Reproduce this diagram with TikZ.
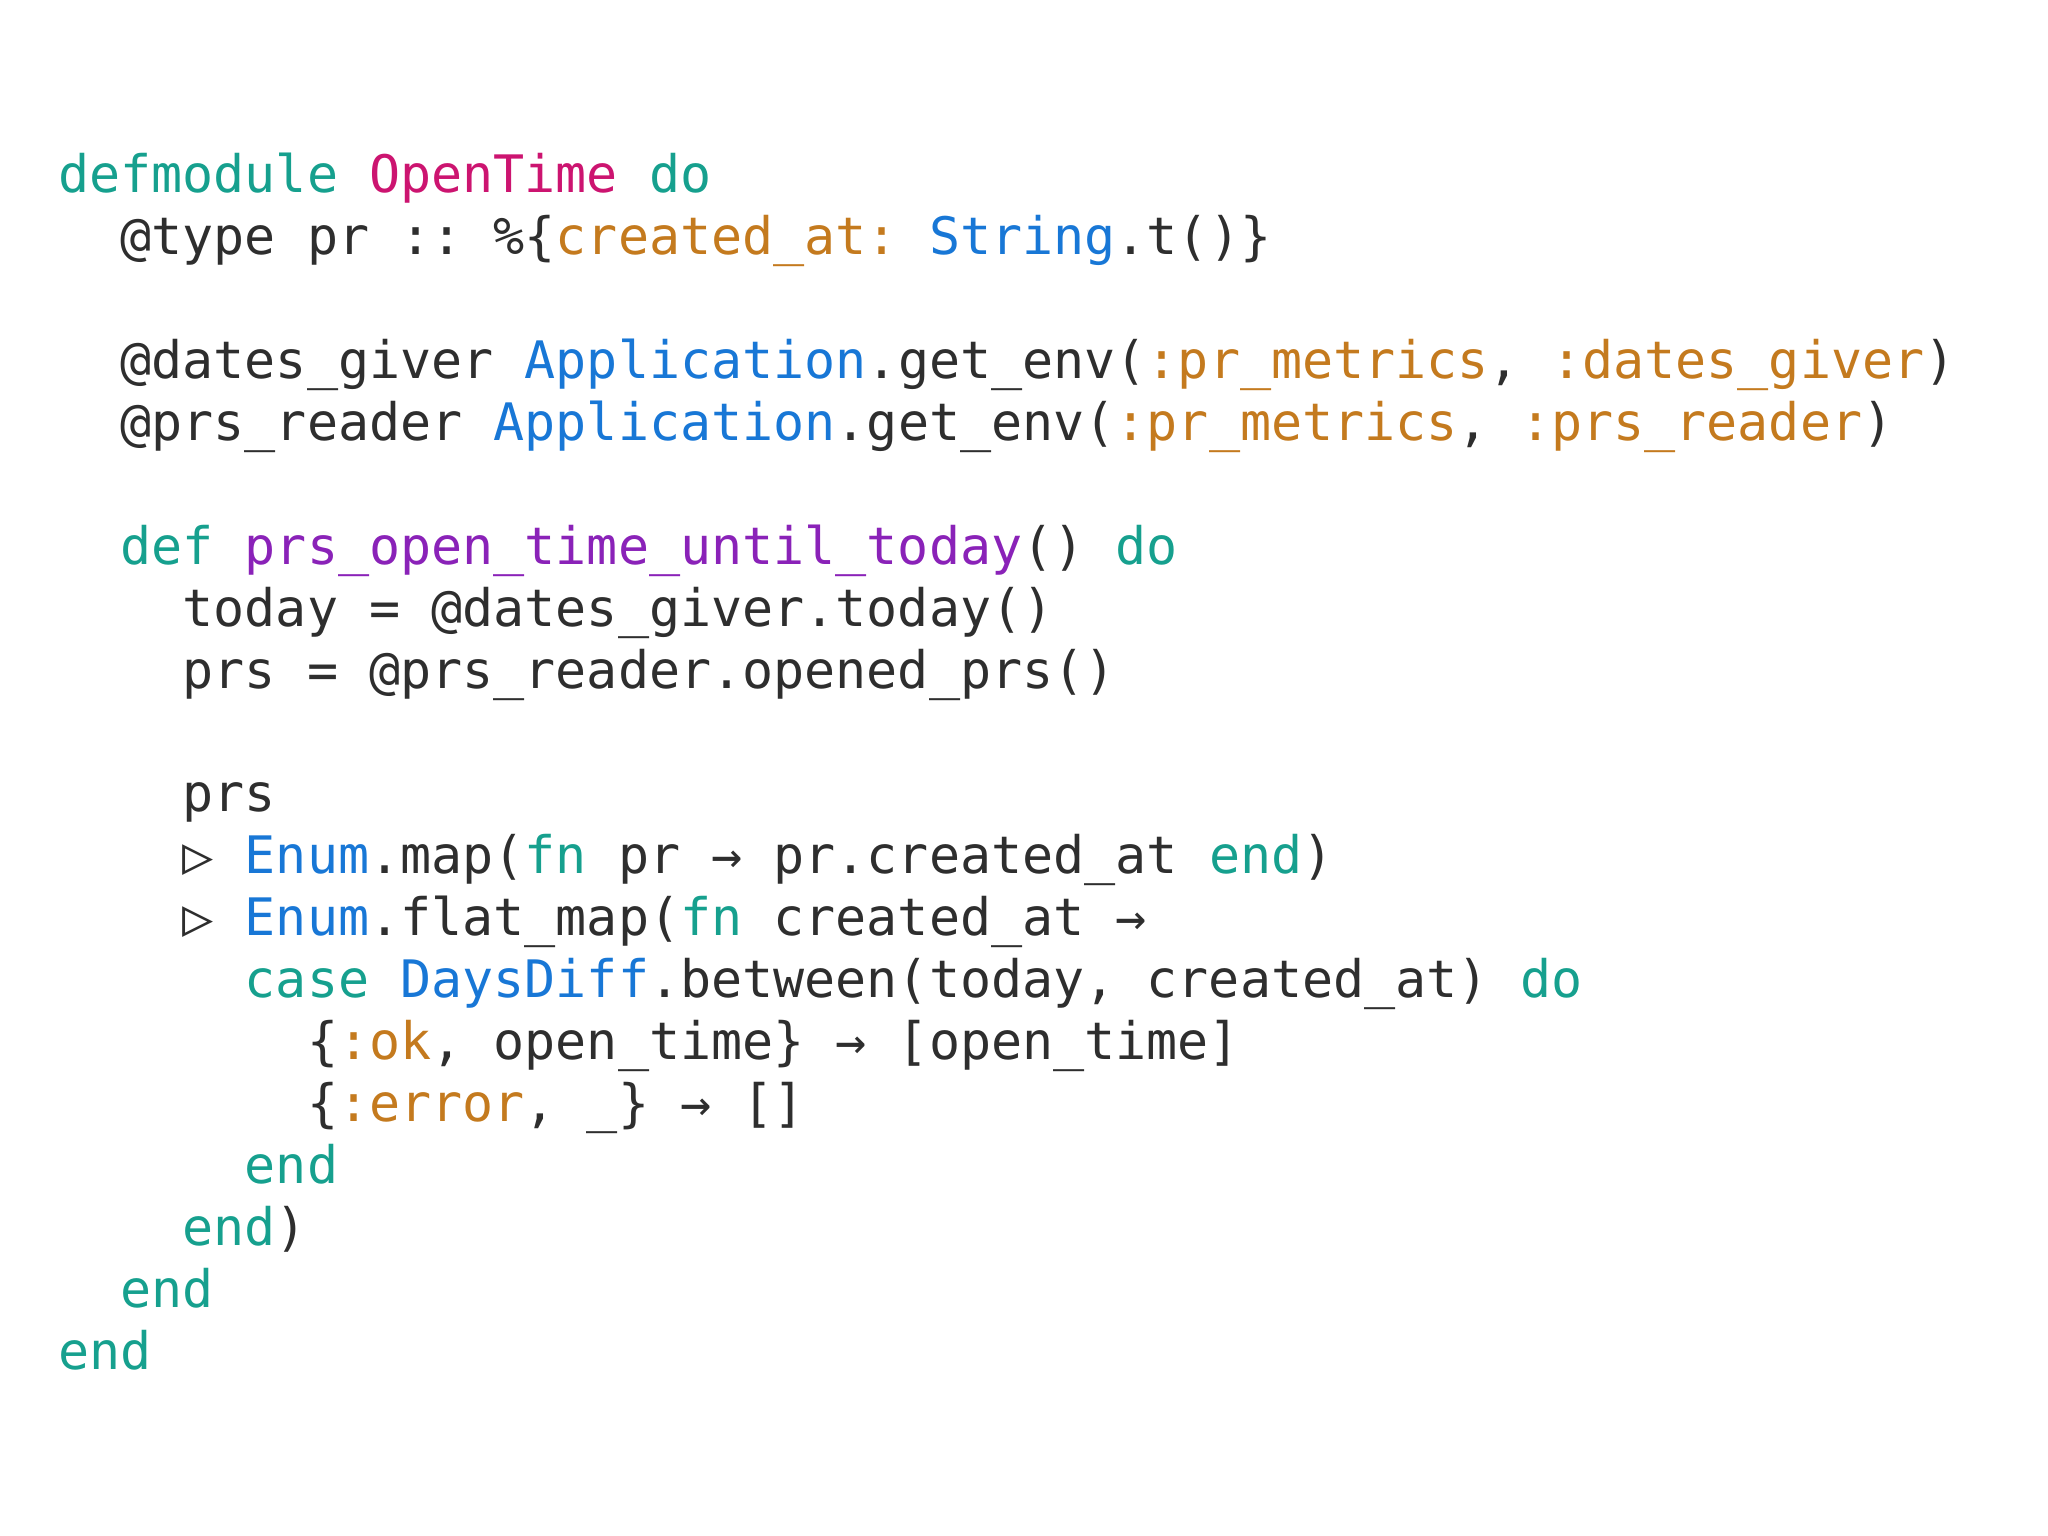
\documentclass[tikz,border=0pt]{standalone}
\usepackage{fontspec}
\setmonofont{DejaVu Sans Mono}
\definecolor{kw}{HTML}{16A08E}
\definecolor{md}{HTML}{CC1470}
\definecolor{at}{HTML}{C47A1E}
\definecolor{mo}{HTML}{1877D6}
\definecolor{fn}{HTML}{8A22B8}
\definecolor{tx}{HTML}{2E2E2E}
\newcommand{\K}[1]{\textcolor{kw}{#1}}
\newcommand{\A}[1]{\textcolor{at}{#1}}
\newcommand{\M}[1]{\textcolor{mo}{#1}}
\begin{document}
\begin{tikzpicture}[ln/.style={anchor=base west,inner sep=0pt,text=tx,font=\ttfamily\fontsize{14.7pt}{17pt}\selectfont}]
\useasboundingbox (0,0) rectangle (20.48,15.36);
\def\ind{0.622}
\def\y#1{13.43-#1*0.619}
\node[ln] (l0) at (0.575,{\y{0}}) {\K{defmodule} \textcolor{md}{OpenTime} \K{do}};
\node[ln] (l1) at ({0.575+1*\ind},{\y{1}}) {@type pr :: \%\{\A{created\_at:} \M{String}.t()\}};
\node[ln] (l3) at ({0.575+1*\ind},{\y{3}}) {@dates\_giver \M{Application}.get\_env(\A{:pr\_metrics}, \A{:dates\_giver})};
\node[ln] (l4) at ({0.575+1*\ind},{\y{4}}) {@prs\_reader \M{Application}.get\_env(\A{:pr\_metrics}, \A{:prs\_reader})};
\node[ln] (l6) at ({0.575+1*\ind},{\y{6}}) {\K{def} \textcolor{fn}{prs\_open\_time\_until\_today}() \K{do}};
\node[ln] (l7) at ({0.575+2*\ind},{\y{7}}) {today = @dates\_giver.today()};
\node[ln] (l8) at ({0.575+2*\ind},{\y{8}}) {prs = @prs\_reader.opened\_prs()};
\node[ln] (l10) at ({0.575+2*\ind},{\y{10}}) {prs};
\node[ln] (l11) at ({0.575+2*\ind},{\y{11}}) {▷ \M{Enum}.map(\K{fn} pr → pr.created\_at \K{end})};
\node[ln] (l12) at ({0.575+2*\ind},{\y{12}}) {▷ \M{Enum}.flat\_map(\K{fn} created\_at →};
\node[ln] (l13) at ({0.575+3*\ind},{\y{13}}) {\K{case} \M{DaysDiff}.between(today, created\_at) \K{do}};
\node[ln] (l14) at ({0.575+4*\ind},{\y{14}}) {\{\A{:ok}, open\_time\} → [open\_time]};
\node[ln] (l15) at ({0.575+4*\ind},{\y{15}}) {\{\A{:error}, \_\} → []};
\node[ln] (l16) at ({0.575+3*\ind},{\y{16}}) {\K{end}};
\node[ln] (l17) at ({0.575+2*\ind},{\y{17}}) {\K{end})};
\node[ln] (l18) at ({0.575+1*\ind},{\y{18}}) {\K{end}};
\node[ln] (l19) at (0.575,{\y{19}}) {\K{end}};
\end{tikzpicture}
\end{document}
